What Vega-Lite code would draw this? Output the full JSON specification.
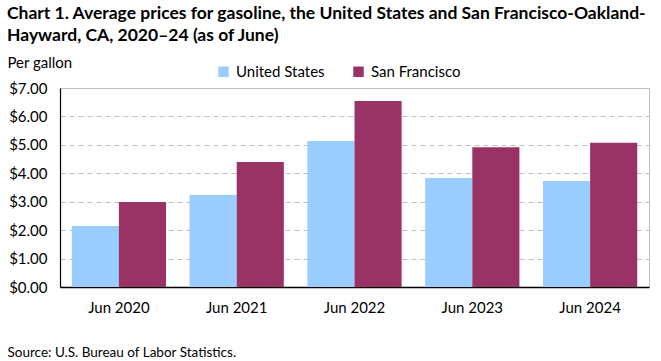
{
  "$schema": "https://vega.github.io/schema/vega-lite/v6.json",
  "width": 589,
  "height": 199,
  "autosize": {"type": "none"},
  "padding": {"left": 60, "top": 88, "right": 12, "bottom": 74},
  "background": "white",
  "title": {
    "text": ["Chart 1. Average prices for gasoline, the United States and San Francisco-Oakland-", "Hayward, CA, 2020–24 (as of June)"],
    "anchor": "start",
    "frame": "group",
    "dx": -53,
    "offset": 11,
    "font": "Lato",
    "fontSize": 17.5,
    "fontWeight": "bold",
    "color": "#000000",
    "lineHeight": 22
  },
  "data": {
    "values": [
      {"period": "Jun 2020", "series": "United States", "price": 2.15},
      {"period": "Jun 2020", "series": "San Francisco", "price": 2.99},
      {"period": "Jun 2021", "series": "United States", "price": 3.24},
      {"period": "Jun 2021", "series": "San Francisco", "price": 4.40},
      {"period": "Jun 2022", "series": "United States", "price": 5.14},
      {"period": "Jun 2022", "series": "San Francisco", "price": 6.54},
      {"period": "Jun 2023", "series": "United States", "price": 3.83},
      {"period": "Jun 2023", "series": "San Francisco", "price": 4.92},
      {"period": "Jun 2024", "series": "United States", "price": 3.73},
      {"period": "Jun 2024", "series": "San Francisco", "price": 5.07}
    ]
  },
  "mark": {"type": "bar"},
  "encoding": {
    "x": {
      "field": "period",
      "type": "nominal",
      "sort": null,
      "scale": {"paddingInner": 0.2, "paddingOuter": 0.1},
      "axis": {
        "title": "Source: U.S. Bureau of Labor Statistics.",
        "titleX": -53,
        "titleY": 65,
        "titleAlign": "left",
        "titleBaseline": "middle",
        "titleFont": "Lato",
        "titleFontSize": 13.5,
        "titleFontWeight": "normal",
        "titleColor": "#000000",
        "labelAngle": 0,
        "labelFont": "Lato",
        "labelFontSize": 15,
        "labelColor": "#000000",
        "labelPadding": 13,
        "domainColor": "#000000",
        "domainWidth": 1.5,
        "ticks": false
      }
    },
    "xOffset": {"field": "series", "type": "nominal", "sort": ["United States", "San Francisco"]},
    "y": {
      "field": "price",
      "type": "quantitative",
      "scale": {"domain": [0, 7]},
      "axis": {
        "values": [0, 1, 2, 3, 4, 5, 6, 7],
        "format": "$.2f",
        "title": "Per gallon",
        "titleAngle": 0,
        "titleX": -53,
        "titleY": -26,
        "titleAlign": "left",
        "titleBaseline": "middle",
        "titleFont": "Lato",
        "titleFontSize": 15,
        "titleFontWeight": "normal",
        "titleColor": "#000000",
        "labelFont": "Lato",
        "labelFontSize": 15,
        "labelColor": "#000000",
        "labelPadding": 13,
        "domainColor": "#000000",
        "domainWidth": 1.2,
        "ticks": false,
        "grid": true,
        "gridColor": "#bfbfbf",
        "gridDash": [5, 4],
        "gridWidth": 1
      }
    },
    "color": {
      "field": "series",
      "type": "nominal",
      "sort": ["United States", "San Francisco"],
      "scale": {"domain": ["United States", "San Francisco"], "range": ["#99ccff", "#993366"]},
      "legend": {
        "title": null,
        "orient": "none",
        "direction": "horizontal",
        "legendX": 156,
        "legendY": -24,
        "symbolType": "square",
        "symbolSize": 110,
        "symbolStrokeWidth": 0,
        "symbolOpacity": 1,
        "labelFont": "Lato",
        "labelFontSize": 15,
        "labelColor": "#000000",
        "columnPadding": 26,
        "labelOffset": 5
      }
    }
  },
  "config": {
    "view": {"stroke": "#bfbfbf", "strokeWidth": 1}
  }
}
